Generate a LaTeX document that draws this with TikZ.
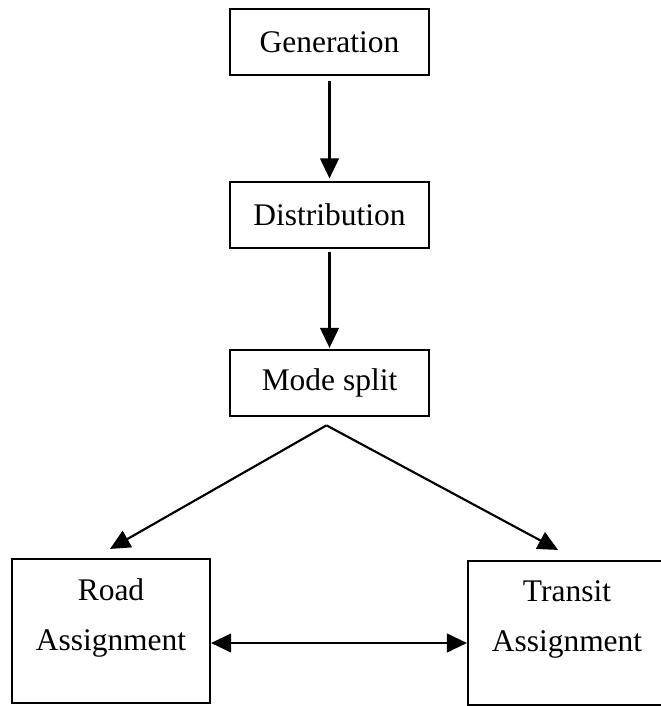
\documentclass[tikz,border=0pt]{standalone}
\usepackage{fontspec}
\setmainfont{Liberation Serif}
\usetikzlibrary{arrows.meta,positioning,calc}

\begin{document}
\begin{tikzpicture}[
                x=0.75pt, y=-0.75pt,
                font=\fontsize{23.6}{37.5}\selectfont,
                >={Triangle[length=15pt, width=14pt]},
                block/.style={draw, line width=1.6pt, minimum height=49.5pt, minimum width=149.25pt, inner sep=0pt, align=center},
                bigblock/.style={draw, line width=1.6pt, minimum height=108pt, minimum width=148.5pt, inner sep=0pt, align=center, text depth=24.75pt},
                line/.style={->, line width=1.6pt},
            ]
            \useasboundingbox (0,0) rectangle (660,706);

            % ----- Upper chain -----
            \node[block] (gen) at (329.5,42) {Generation};
            \node[block, below=78.75pt of gen] (dist) {Distribution};
            \node[block, below=75pt of dist] (mode) {Mode split};

            \draw[line, shorten <=4pt, shorten >=2pt] (gen.south) -- (dist.north);
            \draw[line, shorten <=2pt, shorten >=1pt] (dist.south) -- (mode.north);

            % ----- Assignment boxes -----
            \node[bigblock] (road) at (111,631) {Road\\Assignment};
            \node[bigblock] (transit) at (567,633) {Transit\\Assignment};

            % split from mode split
            \coordinate (split) at ($(mode.south)+(-3,8)$);
            \draw[line] (split) -- ($(road.north)+(-1,-9)$);
            \draw[line] (split) -- ($(transit.north)+(-9,-10)$);

            % road <-> transit
            \draw[line, <->] ($(road.east)+(0,12)$) -- ($(transit.west)+(0,10)$);

            \end{tikzpicture}
\end{document}
